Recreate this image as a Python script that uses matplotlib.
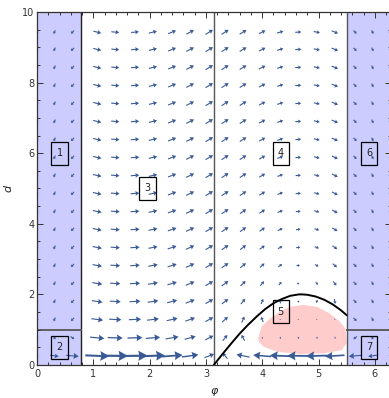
import numpy as np
import matplotlib
matplotlib.use("Agg")
import matplotlib.pyplot as plt
from matplotlib.patches import Rectangle, Polygon
from matplotlib.path import Path
from matplotlib.ticker import MultipleLocator

# ---- sampling grid of the phase portrait (phi columns per zone, d rows) ----
phi_cols_left = [0.0, 0.31, 0.63]
phi_cols_mid = [1.07, 1.39, 1.74, 2.06, 2.40, 2.72, 3.06]
phi_cols_right = [3.34, 3.66, 4.00, 4.32, 4.64, 4.97, 5.29]
phi_cols_far = [5.65, 5.96, 6.27]
d_rows = [0.26, 0.77, 1.29, 1.80, 2.31, 2.82, 3.33, 3.84, 4.35, 4.86,
          5.37, 5.88, 6.39, 6.90, 7.41, 7.92, 8.43, 8.94, 9.43]

# ---- switching boundaries ----
phi_left_edge = np.pi / 4
phi_mid = np.pi
phi_right_edge = 7 * np.pi / 4
d_switch = 1.0

# ---- boundary curve of zone 5 (phi, d) ----
curve_phi = [3.14, 3.30, 3.45, 3.60, 3.75, 3.90, 4.05, 4.20, 4.35, 4.50,
             4.65, 4.71, 4.80, 4.95, 5.10, 5.25, 5.40, 5.50]
curve_d = [0.00, 0.32, 0.61, 0.89, 1.14, 1.37, 1.58, 1.75, 1.87, 1.96,
           2.00, 2.00, 1.99, 1.94, 1.85, 1.72, 1.55, 1.41]

# ---- shaded set inside zone 5 (phi, d) ----
set_phi = [3.93, 3.99, 4.14, 4.32, 4.49, 4.73, 4.97, 5.20, 5.38, 5.48,
           5.50, 5.41, 5.09, 4.67, 4.26, 4.02, 3.94]
set_d = [0.76, 1.09, 1.32, 1.51, 1.65, 1.70, 1.65, 1.46, 1.23, 1.02,
         0.61, 0.42, 0.33, 0.31, 0.38, 0.52, 0.66]

# ---- zone labels ----
zone_names = ["1", "2", "3", "4", "5", "6", "7"]
zone_phi = [0.40, 0.40, 1.96, 4.33, 4.33, 5.90, 5.90]
zone_d = [6.0, 0.5, 5.0, 6.0, 1.51, 6.0, 0.5]

set_path = Path(np.column_stack([set_phi, set_d]))


def field(phi, d):
    """Closed-loop vector field (dphi/dt, dd/dt) of the switched system."""
    if phi < phi_left_edge:
        if d > d_switch:
            return -0.4 * phi, -0.4
        return 0.3 * np.sin(phi) / d**2, -0.35
    if phi > phi_right_edge:
        if d > d_switch:
            return 0.4 * (2 * np.pi - phi), -0.4
        return 0.3 * np.sin(phi) / d**2, -0.35
    dphi = 1.0 + 2.0 * np.sin(phi) / d
    dd = -np.cos(phi)
    if phi > phi_mid and set_path.contains_point((phi, d)):
        dphi, dd = 0.06 * dphi, 0.06 * dd
    return dphi, dd


W, H = 389, 398
fig = plt.figure(figsize=(W / 100, H / 100), dpi=100)
px_x = 56.3   # pixels per unit of phi
px_y = 35.3   # pixels per unit of d
ax = fig.add_axes([37 / W, 33 / H, 2 * np.pi * px_x / W, 10 * px_y / H])
ax.set_xlim(0, 2 * np.pi)
ax.set_ylim(0, 10)

blue = "#ccccff"
ax.add_patch(Rectangle((0, 0), phi_left_edge, 10, facecolor=blue, edgecolor="none", zorder=0))
ax.add_patch(Rectangle((phi_right_edge, 0), 2 * np.pi - phi_right_edge, 10,
                       facecolor=blue, edgecolor="none", zorder=0))
ax.add_patch(Polygon(np.column_stack([set_phi, set_d]), closed=True,
                     facecolor="#ffcccc", edgecolor="none", zorder=0.5))

line_col = "#555555"
ax.axvline(phi_left_edge, color="#222222", lw=1.0, zorder=1)
ax.axvline(phi_mid, color=line_col, lw=1.0, zorder=1)
ax.axvline(phi_right_edge, color=line_col, lw=1.0, zorder=1)
ax.plot([0, phi_left_edge], [d_switch, d_switch], color=line_col, lw=1.3, zorder=1)
ax.plot([phi_right_edge, 2 * np.pi], [d_switch, d_switch], color=line_col, lw=1.3, zorder=1)

# arrows: length grows with speed, head proportional to length
arrow_col = "#3a5a96"
for cols in (phi_cols_left, phi_cols_mid, phi_cols_right, phi_cols_far):
    for p in cols:
        for d in d_rows:
            fx, fy = field(p, d)
            mag = np.hypot(fx, fy)
            ang = np.arctan2(fy * px_y, fx * px_x)
            L = 7.0 * mag ** 0.6
            u = L * np.cos(ang) / px_x
            v = L * np.sin(ang) / px_y
            w = max(1.1, 0.085 * L)
            hl = (0.33 * L + 1.0) / w
            hw = (0.33 * L + 1.9) / w
            ax.quiver([p], [d], [u], [v], angles="xy", scale_units="xy", scale=1,
                      pivot="middle", units="dots", width=w, headwidth=hw,
                      headlength=hl, headaxislength=0.9 * hl, color=arrow_col,
                      zorder=2, clip_on=True)

ax.plot(curve_phi, curve_d, color="black", lw=1.4, zorder=3, solid_capstyle="round")

for name, p, d in zip(zone_names, zone_phi, zone_d):
    bw, bh = 16.5 / px_x, 23 / px_y
    ax.add_patch(Rectangle((p - bw / 2, d - bh / 2), bw, bh, facecolor="none",
                           edgecolor="black", lw=0.9, zorder=4))
    ax.text(p, d, name, ha="center", va="center", fontsize=7, color="#222222", zorder=5)

frame_col = "#333333"
for s in ax.spines.values():
    s.set_color(frame_col)
    s.set_linewidth(0.9)
ax.xaxis.set_major_locator(MultipleLocator(1))
ax.xaxis.set_minor_locator(MultipleLocator(0.2))
ax.yaxis.set_major_locator(MultipleLocator(2))
ax.yaxis.set_minor_locator(MultipleLocator(0.5))
ax.tick_params(which="both", direction="in", top=True, right=True, colors=frame_col,
               labelsize=7, width=0.7)
ax.tick_params(which="major", length=4)
ax.tick_params(which="minor", length=2.2)
ax.tick_params(axis="x", pad=3)
ax.tick_params(axis="y", pad=2)

ax.set_xlabel("φ", fontsize=8, style="italic", color="#222222", labelpad=5)
ax.set_ylabel("d", fontsize=8, style="italic", color="#222222", labelpad=6)

fig.savefig("out.png", dpi=100)
